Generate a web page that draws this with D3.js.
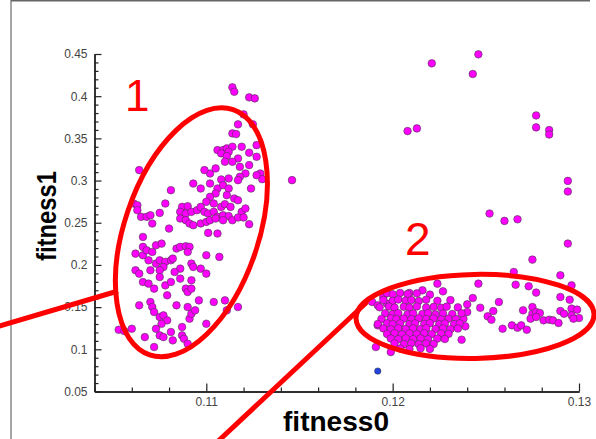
<!DOCTYPE html>
<html><head><meta charset="utf-8">
<script src="https://cdn.jsdelivr.net/npm/d3@7"></script>
<style>html,body{margin:0;padding:0;background:#fff;overflow:hidden}</style>
</head><body><svg id="c" width="596" height="439"></svg>
<script>
// ---- data (fitness0, fitness1) ----
const cluster1 = [
[0.1114,0.4105],[0.1115,0.4053],[0.1123,0.3986],[0.1126,0.3974],[0.1120,0.3784],[0.1117,0.3666],[0.1125,0.3666],[0.1114,0.3559],[0.1116,0.3551],[0.1127,0.3420],
[0.1106,0.3361],[0.1109,0.3361],[0.1111,0.3381],[0.1114,0.3401],[0.1108,0.3322],[0.1112,0.3341],[0.1119,0.3401],[0.1123,0.3330],[0.1127,0.3282],[0.1111,0.3290],
[0.1117,0.3262],[0.1110,0.3223],[0.1114,0.3223],[0.1118,0.3163],[0.1123,0.3183],[0.1129,0.3084],[0.1130,0.3017],[0.1127,0.3064],[0.1121,0.3084],[0.1118,0.3045],
[0.1117,0.3005],[0.1112,0.3025],[0.1108,0.3013],[0.1102,0.3084],[0.1099,0.3124],[0.1105,0.3144],[0.1093,0.2965],[0.1097,0.2906],[0.1102,0.2965],[0.1106,0.2906],
[0.1109,0.2946],[0.1112,0.2906],[0.1124,0.2906],[0.1081,0.2886],[0.1078,0.2728],[0.1075,0.2617],[0.1105,0.2847],[0.1111,0.2827],[0.1115,0.2787],[0.1117,0.2767],
[0.1102,0.2807],[0.1100,0.2748],[0.1104,0.2728],[0.1108,0.2688],[0.1110,0.2720],[0.1113,0.2688],[0.1119,0.2629],[0.1121,0.2669],[0.1123,0.2483],[0.1087,0.2688],
[0.1090,0.2696],[0.1086,0.2629],[0.1089,0.2609],[0.1092,0.2629],[0.1095,0.2649],[0.1097,0.2688],[0.1099,0.2629],[0.1101,0.2609],[0.1104,0.2629],[0.1106,0.2570],
[0.1109,0.2589],[0.1112,0.2578],[0.1114,0.2530],[0.1117,0.2562],[0.1120,0.2562],[0.1086,0.2550],[0.1089,0.2530],[0.1091,0.2491],[0.1093,0.2471],[0.1097,0.2491],
[0.1100,0.2510],[0.1102,0.2530],[0.1105,0.2550],[0.1109,0.2530],[0.1101,0.2380],[0.1106,0.2372],[0.1080,0.2431],[0.1064,0.3124],[0.1061,0.2728],[0.1063,0.2708],
[0.1063,0.2649],[0.1065,0.2570],[0.1068,0.2570],[0.1070,0.2589],[0.1071,0.2491],
[0.1066,0.2332],[0.1066,0.2214],[0.1062,0.2134],[0.1066,0.2115],[0.1068,0.2174],[0.1071,0.2154],[0.1073,0.2233],[0.1076,0.2253],[0.1069,0.2055],[0.1073,0.2016],
[0.1075,0.2055],[0.1078,0.2036],[0.1081,0.2055],[0.1082,0.2075],[0.1084,0.2194],[0.1086,0.2214],[0.1089,0.2222],[0.1091,0.2214],[0.1090,0.2154],[0.1092,0.2016],
[0.1093,0.1976],[0.1097,0.1956],[0.1100,0.1897],[0.1100,0.2115],[0.1107,0.2095],[0.1086,0.1956],[0.1083,0.1917],[0.1077,0.1976],[0.1075,0.1937],[0.1070,0.1937],
[0.1062,0.1937],[0.1064,0.1897],[0.1066,0.1798],[0.1069,0.1778],[0.1072,0.1719],[0.1075,0.1857],[0.1078,0.1758],[0.1081,0.1798],[0.1086,0.1838],[0.1089,0.1719],
[0.1090,0.1679],[0.1092,0.1818],[0.1092,0.1719],[0.1096,0.1580],[0.1104,0.1561],[0.1110,0.1580],[0.1117,0.1501],[0.1111,0.1462],[0.1090,0.1501],[0.1084,0.1521],
[0.1079,0.1640],[0.1070,0.1561],[0.1071,0.1501],[0.1072,0.1442],[0.1064,0.1521],[0.1053,0.1232],[0.1056,0.1216],[0.1060,0.1244],[0.1075,0.1383],[0.1077,0.1402],
[0.1079,0.1343],[0.1076,0.1303],[0.1073,0.1244],[0.1075,0.1165],[0.1077,0.1145],[0.1081,0.1205],[0.1082,0.1106],[0.1087,0.1264],[0.1087,0.1165],[0.1088,0.1125],
[0.1091,0.1363],[0.1092,0.1422],[0.1094,0.1462],[0.1100,0.1303],[0.1090,0.1066],[0.1072,0.1027],[0.1067,0.1145],[0.1146,0.3005]
];
const cluster2 = [
[0.1275,0.2063],[0.1265,0.1917],[0.1290,0.1877],[0.1246,0.1778],[0.1266,0.1766],[0.1273,0.1747],[0.1277,0.1672],[0.1296,0.1758],[0.1290,0.1620],[0.1295,0.1588],
[0.1224,0.1778],[0.1227,0.1687],[0.1216,0.1699],[0.1220,0.1648],[0.1209,0.1668],[0.1243,0.1608],[0.1257,0.1561],[0.1240,0.1533],[0.1247,0.1493],[0.1254,0.1454],
[0.1251,0.1391],[0.1253,0.1351],[0.1240,0.1442],[0.1238,0.1363],[0.1239,0.1272],[0.1259,0.1244],[0.1264,0.1284],[0.1267,0.1256],[0.1269,0.1284],[0.1272,0.1232],
[0.1270,0.1462],[0.1275,0.1501],[0.1275,0.1422],[0.1277,0.1442],[0.1279,0.1430],[0.1274,0.1363],[0.1277,0.1383],[0.1281,0.1343],[0.1284,0.1351],[0.1286,0.1343],
[0.1289,0.1312],[0.1290,0.1454],[0.1292,0.1422],[0.1296,0.1482],[0.1299,0.1470],[0.1296,0.1403],[0.1300,0.1371],[0.1297,0.1363],
[0.1189,0.1561],[0.1191,0.1027],[0.1192,0.1284],[0.1195,0.1620],[0.1199,0.0967],[0.1197,0.1541],[0.1192,0.1521],
[0.1197,0.1665],[0.1200,0.1652],[0.1204,0.1668],[0.1208,0.1655],[0.1213,0.1663],
[0.1195,0.1585],[0.1200,0.1574],[0.1203,0.1590],[0.1207,0.1578],[0.1210,0.1584],[0.1214,0.1572],[0.1218,0.1588],[0.1224,0.1575],[0.1231,0.1583],
[0.1193,0.1498],[0.1198,0.1507],[0.1201,0.1494],[0.1206,0.1505],[0.1209,0.1496],[0.1213,0.1508],[0.1218,0.1495],[0.1222,0.1503],[0.1226,0.1492],[0.1229,0.1506],[0.1235,0.1497],
[0.1196,0.1426],[0.1200,0.1417],[0.1203,0.1428],[0.1208,0.1415],[0.1211,0.1425],[0.1216,0.1418],[0.1219,0.1429],[0.1223,0.1414],[0.1227,0.1424],[0.1232,0.1419],[0.1237,0.1427],
[0.1194,0.1360],[0.1199,0.1368],[0.1202,0.1357],[0.1206,0.1365],[0.1210,0.1356],[0.1214,0.1367],[0.1218,0.1359],[0.1222,0.1366],[0.1226,0.1355],[0.1230,0.1364],[0.1234,0.1358],
[0.1192,0.1300],[0.1197,0.1309],[0.1200,0.1298],[0.1204,0.1307],[0.1209,0.1297],[0.1212,0.1308],[0.1217,0.1301],[0.1220,0.1310],[0.1225,0.1297],[0.1228,0.1306],[0.1233,0.1299],[0.1236,0.1308],
[0.1195,0.1248],[0.1199,0.1238],[0.1203,0.1250],[0.1207,0.1240],[0.1211,0.1249],[0.1215,0.1239],[0.1218,0.1251],[0.1223,0.1241],[0.1227,0.1247],[0.1231,0.1238],[0.1235,0.1246],
[0.1197,0.1182],[0.1201,0.1190],[0.1205,0.1179],[0.1209,0.1188],[0.1213,0.1180],[0.1217,0.1191],[0.1221,0.1181],[0.1226,0.1189],[0.1230,0.1183],
[0.1199,0.1128],[0.1203,0.1120],[0.1207,0.1130],[0.1211,0.1121],[0.1215,0.1129],[0.1219,0.1119],[0.1224,0.1127],[0.1228,0.1122],
[0.1201,0.1070],[0.1206,0.1062],[0.1210,0.1071],[0.1214,0.1061],[0.1218,0.1069],[0.1222,0.1063],
[0.1204,0.1010],[0.1209,0.1003],[0.1215,0.1012],[0.1220,0.1005],[0.1237,0.1114]
];
const scattered = [
[0.1246,0.4496],[0.1221,0.4389],[0.1243,0.4263],[0.1208,0.3586],[0.1213,0.3618],[0.1277,0.3772],[0.1277,0.3630],[0.1284,0.3598],[0.1284,0.3546],
[0.1294,0.2996],[0.1294,0.2870],[0.1252,0.2609],[0.1260,0.2522],[0.1267,0.2541],[0.1294,0.2253]
];
const selected = [[0.1192,0.0742]];

const xMajor = [0.11, 0.12, 0.13];
const yMajor = [0.05, 0.1, 0.15, 0.2, 0.25, 0.3, 0.35, 0.4, 0.45];
const xLabel = "fitness0", yLabel = "fitness1";
const groupLabels = ["1", "2"];

// ---- drawing ----
const svg = d3.select("#c");
const x = d3.scaleLinear().domain([0.104, 0.13]).range([94.5, 579]);
const y = d3.scaleLinear().domain([0.05, 0.45]).range([391.5, 54]);
const font = "'Liberation Sans', Arial, Helvetica, sans-serif";

// frame of screenshot
svg.append("line").attr("x1",11).attr("x2",11).attr("y1",0).attr("y2",439).attr("stroke","#777").attr("stroke-width",1.3);
svg.append("line").attr("x1",11).attr("x2",590).attr("y1",0.7).attr("y2",0.7).attr("stroke","#666").attr("stroke-width",1.5);

const xMinor = d3.range(0.104, 0.1301, 0.002).filter(v => !xMajor.some(m => Math.abs(m - v) < 1e-6));
const yMinor = d3.range(0.05, 0.4501, 0.01).filter(v => !yMajor.some(m => Math.abs(m - v) < 1e-6));

const fmt = d => String(+d.toFixed(3));
function style(g){
  g.selectAll("path.domain").attr("stroke","#222").attr("stroke-width",1.4);
  g.selectAll(".tick line").attr("stroke","#222").attr("stroke-width",1.2);
  g.selectAll("text").attr("font-family",font).attr("font-size",12).attr("fill","#444");
}
const gx = svg.append("g").attr("transform","translate(0,391.5)");
gx.append("g").call(d3.axisBottom(x).tickValues(xMinor).tickSize(-4).tickSizeOuter(0).tickFormat("")).call(style);
gx.append("g").call(d3.axisBottom(x).tickValues(xMajor).tickSize(-8).tickSizeOuter(0).tickPadding(6).tickFormat(fmt)).call(style);
const gy = svg.append("g").attr("transform","translate(94.5,0)");
gy.append("g").call(d3.axisLeft(y).tickValues(yMinor).tickSize(-4).tickSizeOuter(0).tickFormat("")).call(style);
gy.append("g").call(d3.axisLeft(y).tickValues(yMajor).tickSize(-7).tickSizeOuter(0).tickPadding(7).tickFormat(fmt)).call(style);

svg.append("text").attr("x",336).attr("y",431).attr("text-anchor","middle")
  .attr("font-family",font).attr("font-weight","bold").attr("font-size",28)
  .attr("textLength",106).attr("lengthAdjust","spacingAndGlyphs").attr("fill","#000").text(xLabel);
svg.append("text").attr("transform","translate(56,216) rotate(-90)").attr("text-anchor","middle")
  .attr("font-family",font).attr("font-weight","bold").attr("font-size",28)
  .attr("textLength",90).attr("lengthAdjust","spacingAndGlyphs").attr("fill","#000").text(yLabel);

// points
const pts = cluster1.concat(cluster2, scattered);
svg.append("g").selectAll("circle").data(pts).join("circle")
  .attr("cx", d => x(d[0])).attr("cy", d => y(d[1])).attr("r", 3.8)
  .attr("fill", "#ff00ff").attr("stroke", "#4a3a4a").attr("stroke-width", 0.6);
svg.append("g").selectAll("circle").data(selected).join("circle")
  .attr("cx", d => x(d[0])).attr("cy", d => y(d[1])).attr("r", 3.2)
  .attr("fill", "#2244dd").attr("stroke", "#223").attr("stroke-width", 0.5);

// annotations
const red = "#ff0000";
const ann = svg.append("g").attr("fill","none").attr("stroke",red).attr("stroke-width",5);
ann.append("ellipse").attr("cx",0).attr("cy",0).attr("rx",67).attr("ry",129.5)
  .attr("transform",`translate(${x(0.1092)},${y(0.2387)}) rotate(18.8)`);
ann.append("ellipse").attr("cx",0).attr("cy",0).attr("rx",119).attr("ry",42)
  .attr("transform",`translate(${x(0.12442)},${y(0.139)}) rotate(-1)`);
ann.append("line").attr("x1",-4).attr("y1",327).attr("x2",118).attr("y2",291);
ann.append("line").attr("x1",213).attr("y1",446).attr("x2",367).attr("y2",302);
svg.append("text").attr("x",125).attr("y",111).attr("font-family",font).attr("font-size",44).attr("fill",red).text(groupLabels[0]);
svg.append("text").attr("x",405).attr("y",255).attr("font-family",font).attr("font-size",46).attr("fill",red).text(groupLabels[1]);
</script></body></html>
